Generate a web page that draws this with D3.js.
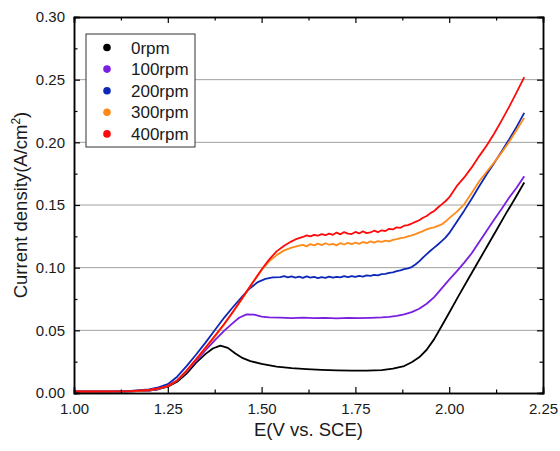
<!DOCTYPE html>
<html>
<head>
<meta charset="utf-8">
<script src="https://cdn.jsdelivr.net/npm/d3@7"></script>
<style>
	body { margin: 0; background: #fff; }
	svg { display: block; font-family: "Liberation Sans", Arial, sans-serif; }
	.line { fill: none; stroke-width: 1.8; stroke-linejoin: round; }
	.axis path, .axis line { stroke: #000; }
	.axis text { font-size: 15px; fill: #1a1a1a; }
</style>
</head>
<body>
<script>
// series names and colours
var seriesNames = ["0rpm", "100rpm", "200rpm", "300rpm", "400rpm"];
var seriesColors = ["#000000", "#7a1ee0", "#0d28b8", "#ff8a1a", "#ff0a0a"];

// tick values
var xTicks = [1.00, 1.25, 1.50, 1.75, 2.00, 2.25];
var yTicks = [0.00, 0.05, 0.10, 0.15, 0.20, 0.25, 0.30];

// [E (V vs. SCE), current density (A/cm2)]
var rpm0 = [[1.00,0.0010],[1.05,0.0010],[1.10,0.0011],[1.15,0.0013],[1.20,0.0020],[1.225,0.0030],[1.25,0.0050],[1.275,0.0090],
	[1.30,0.0155],[1.325,0.0240],[1.35,0.0310],[1.37,0.0355],[1.39,0.0378],[1.41,0.0360],[1.43,0.0315],[1.45,0.0278],[1.47,0.0255],
	[1.50,0.0232],[1.54,0.0210],[1.58,0.0198],[1.62,0.0190],[1.66,0.0184],[1.70,0.0180],[1.74,0.0178],[1.78,0.0178],[1.82,0.0183],
	[1.85,0.0195],[1.88,0.0215],[1.90,0.0245],[1.92,0.0285],[1.94,0.0345],[1.96,0.0430],[1.98,0.0535],[2.00,0.0640],[2.025,0.0775],
	[2.05,0.0905],[2.075,0.1035],[2.10,0.1165],[2.125,0.1295],[2.15,0.1425],[2.175,0.1550],[2.20,0.1680]];

var rpm100 = [[1.00,0.0010],[1.05,0.0010],[1.10,0.0011],[1.15,0.0013],[1.20,0.0020],[1.225,0.0032],[1.25,0.0055],[1.275,0.0100],
	[1.30,0.0170],[1.325,0.0255],[1.35,0.0340],[1.375,0.0420],[1.40,0.0495],[1.42,0.0550],[1.44,0.0600],[1.46,0.0627],[1.48,0.0625],
	[1.50,0.0610],[1.52,0.0603],[1.55,0.0601],[1.58,0.0598],[1.61,0.0601],[1.64,0.0597],[1.67,0.0600],[1.70,0.0596],[1.73,0.0599],
	[1.76,0.0597],[1.79,0.0600],[1.82,0.0603],[1.84,0.0608],[1.86,0.0616],[1.88,0.0628],[1.90,0.0645],[1.92,0.0672],[1.94,0.0712],
	[1.96,0.0765],[1.98,0.0835],[2.00,0.0905],[2.02,0.0970],[2.04,0.1040],[2.06,0.1115],[2.08,0.1205],[2.10,0.1295],[2.12,0.1385],
	[2.14,0.1470],[2.16,0.1560],[2.18,0.1640],[2.20,0.1730]];

var rpm200 = [[1.00,0.0012],[1.05,0.0012],[1.10,0.0013],[1.15,0.0016],[1.20,0.0028],[1.225,0.0045],[1.25,0.0070],[1.275,0.0130],
	[1.30,0.0215],[1.325,0.0305],[1.35,0.0400],[1.375,0.0500],[1.40,0.0600],[1.425,0.0690],[1.45,0.0775],[1.47,0.0838],[1.49,0.0885],
	[1.51,0.0910],[1.53,0.0922],[1.55,0.0925],[1.56,0.0932],[1.57,0.0922],[1.58,0.0930],[1.59,0.0920],[1.60,0.0928],[1.61,0.0918],
	[1.62,0.0930],[1.63,0.0921],[1.64,0.0927],[1.65,0.0917],[1.66,0.0925],[1.67,0.0919],[1.68,0.0929],[1.69,0.0920],[1.70,0.0927],
	[1.71,0.0922],[1.72,0.0932],[1.73,0.0924],[1.74,0.0933],[1.75,0.0926],[1.76,0.0935],[1.77,0.0928],[1.78,0.0938],[1.79,0.0935],
	[1.80,0.0942],[1.81,0.0938],[1.82,0.0948],[1.83,0.0950],[1.84,0.0958],[1.85,0.0962],[1.86,0.0972],[1.87,0.0978],[1.88,0.0988],
	[1.89,0.0995],[1.90,0.1005],[1.91,0.1025],[1.92,0.1050],[1.93,0.1080],[1.94,0.1108],[1.95,0.1135],[1.96,0.1160],[1.97,0.1185],
	[1.98,0.1212],[1.99,0.1240],[2.00,0.1275],[2.02,0.1365],[2.04,0.1455],[2.06,0.1550],[2.08,0.1650],[2.10,0.1745],[2.12,0.1835],
	[2.14,0.1930],[2.16,0.2025],[2.18,0.2125],[2.20,0.2235]];

var rpm300 = [[1.00,0.0010],[1.05,0.0010],[1.10,0.0011],[1.15,0.0013],[1.20,0.0022],[1.225,0.0035],[1.25,0.0055],[1.275,0.0100],
	[1.30,0.0175],[1.325,0.0265],[1.35,0.0355],[1.375,0.0448],[1.40,0.0545],[1.425,0.0650],[1.45,0.0760],[1.475,0.0875],[1.50,0.0980],
	[1.52,0.1050],[1.54,0.1100],[1.56,0.1138],[1.58,0.1160],[1.59,0.1168],[1.60,0.1175],[1.61,0.1182],[1.62,0.1170],[1.63,0.1188],
	[1.64,0.1178],[1.65,0.1192],[1.66,0.1180],[1.67,0.1195],[1.68,0.1183],[1.69,0.1190],[1.70,0.1178],[1.71,0.1196],[1.72,0.1185],
	[1.73,0.1198],[1.74,0.1188],[1.75,0.1200],[1.76,0.1190],[1.77,0.1205],[1.78,0.1195],[1.79,0.1210],[1.80,0.1200],[1.81,0.1212],
	[1.82,0.1205],[1.83,0.1215],[1.84,0.1210],[1.85,0.1222],[1.86,0.1228],[1.87,0.1235],[1.88,0.1240],[1.89,0.1250],[1.90,0.1258],
	[1.91,0.1268],[1.92,0.1280],[1.93,0.1292],[1.94,0.1305],[1.95,0.1316],[1.96,0.1322],[1.97,0.1334],[1.98,0.1345],[1.99,0.1368],
	[2.00,0.1395],[2.02,0.1445],[2.04,0.1505],[2.06,0.1595],[2.08,0.1690],[2.10,0.1765],[2.12,0.1840],[2.14,0.1920],[2.16,0.2005],
	[2.18,0.2100],[2.20,0.2195]];

var rpm400 = [[1.00,0.0012],[1.05,0.0012],[1.10,0.0013],[1.15,0.0015],[1.20,0.0024],[1.225,0.0036],[1.25,0.0055],[1.275,0.0100],
	[1.30,0.0178],[1.325,0.0268],[1.35,0.0360],[1.375,0.0455],[1.40,0.0550],[1.425,0.0655],[1.45,0.0765],[1.475,0.0875],[1.50,0.0985],
	[1.52,0.1065],[1.54,0.1130],[1.56,0.1175],[1.58,0.1210],[1.59,0.1225],[1.60,0.1235],[1.61,0.1245],[1.62,0.1258],[1.63,0.1250],
	[1.64,0.1262],[1.65,0.1255],[1.66,0.1268],[1.67,0.1259],[1.68,0.1272],[1.69,0.1262],[1.70,0.1280],[1.71,0.1266],[1.72,0.1284],
	[1.73,0.1272],[1.74,0.1268],[1.75,0.1285],[1.76,0.1273],[1.77,0.1290],[1.78,0.1276],[1.79,0.1281],[1.80,0.1295],[1.81,0.1283],
	[1.82,0.1298],[1.83,0.1292],[1.84,0.1310],[1.85,0.1305],[1.86,0.1322],[1.87,0.1318],[1.88,0.1335],[1.89,0.1340],[1.90,0.1352],
	[1.91,0.1365],[1.92,0.1378],[1.93,0.1398],[1.94,0.1412],[1.95,0.1435],[1.96,0.1452],[1.97,0.1480],[1.98,0.1505],[1.99,0.1530],
	[2.00,0.1560],[2.02,0.1650],[2.04,0.1720],[2.06,0.1800],[2.08,0.1890],[2.10,0.1975],[2.12,0.2070],[2.14,0.2175],[2.16,0.2285],
	[2.18,0.2400],[2.20,0.2520]];

var allSeries = [rpm0, rpm100, rpm200, rpm300, rpm400];

window.onload = function () {
	DrawChart();
};

function DrawChart() {
	var margin = { top: 17, right: 17, bottom: 58, left: 74 }
		, width = 560 - margin.left - margin.right
		, height = 451 - margin.top - margin.bottom;

	var xScale = d3.scaleLinear()
		.domain([1.0, 2.25])
		.range([0, width]);

	var yScale = d3.scaleLinear()
		.domain([0, 0.30])
		.range([height, 0]);

	var svg = d3.select("body").append("svg")
		.attr("width", width + margin.left + margin.right)
		.attr("height", height + margin.top + margin.bottom)
		.append("g")
		.attr("transform", "translate(" + margin.left + "," + margin.top + ")");

	// horizontal grid
	svg.selectAll(".grid")
		.data(yTicks.filter(function (d) { return d > 0 && d < 0.3; }))
		.enter()
		.append("line")
		.attr("class", "grid")
		.attr("x1", 0)
		.attr("x2", width)
		.attr("y1", function (d) { return yScale(d); })
		.attr("y2", function (d) { return yScale(d); })
		.attr("stroke", "#a0a0a0")
		.attr("stroke-width", 1);

	// curves (straight segments, measured data)
	var line = d3.line()
		.x(function (d) { return xScale(d[0]); })
		.y(function (d) { return yScale(d[1]); });

	allSeries.forEach(function (s, i) {
		svg.append("path")
			.datum(s)
			.attr("class", "line")
			.attr("d", line)
			.attr("stroke", seriesColors[i]);
	});

	// minor tick positions halfway between majors
	var xMinor = xTicks.slice(0, -1).map(function (d) { return d + 0.125; });
	var yMinor = yTicks.slice(0, -1).map(function (d) { return d + 0.025; });

	// bottom axis
	svg.append("g")
		.attr("class", "x axis")
		.attr("transform", "translate(0," + height + ")")
		.call(d3.axisBottom(xScale).tickValues(xTicks).tickSize(-6).tickPadding(10)
			.tickFormat(d3.format(".2f")));
	svg.append("g")
		.attr("class", "x axis")
		.attr("transform", "translate(0," + height + ")")
		.call(d3.axisBottom(xScale).tickValues(xMinor).tickSize(-3.5).tickFormat(""));

	// top axis
	svg.append("g")
		.attr("class", "axis")
		.call(d3.axisTop(xScale).tickValues(xTicks).tickSize(-6).tickFormat(""));
	svg.append("g")
		.attr("class", "axis")
		.call(d3.axisTop(xScale).tickValues(xMinor).tickSize(-3.5).tickFormat(""));

	// left axis
	svg.append("g")
		.attr("class", "y axis")
		.call(d3.axisLeft(yScale).tickValues(yTicks).tickSize(-6).tickPadding(9)
			.tickFormat(d3.format(".2f")));
	svg.append("g")
		.attr("class", "y axis")
		.call(d3.axisLeft(yScale).tickValues(yMinor).tickSize(-3.5).tickFormat(""));

	// right axis
	svg.append("g")
		.attr("class", "axis")
		.attr("transform", "translate(" + width + ",0)")
		.call(d3.axisRight(yScale).tickValues(yTicks).tickSize(-6).tickFormat(""));
	svg.append("g")
		.attr("class", "axis")
		.attr("transform", "translate(" + width + ",0)")
		.call(d3.axisRight(yScale).tickValues(yMinor).tickSize(-3.5).tickFormat(""));

	svg.selectAll(".axis path.domain").attr("stroke-width", 1.5);
	svg.selectAll(".axis .tick line").attr("stroke-width", 1.2);

	// axis titles
	svg.append("text")
		.attr("x", width / 2)
		.attr("y", height + 43)
		.attr("text-anchor", "middle")
		.attr("font-size", "18.5px")
		.attr("fill", "#1a1a1a")
		.text("E(V vs. SCE)");

	var yTitle = svg.append("text")
		.attr("transform", "translate(" + (-47) + "," + (height / 2) + ") rotate(-90)")
		.attr("text-anchor", "middle")
		.attr("font-size", "18.5px")
		.attr("fill", "#1a1a1a");
	yTitle.append("tspan").text("Current density(A/cm");
	yTitle.append("tspan").attr("font-size", "12px").attr("dy", "-7").text("2");
	yTitle.append("tspan").attr("dy", "7").text(")");

	// legend
	var legend = svg.append("g")
		.attr("transform", "translate(12,17)");
	legend.append("rect")
		.attr("x", 0)
		.attr("y", 0)
		.attr("width", 109)
		.attr("height", 113)
		.attr("fill", "#fff")
		.attr("stroke", "#333")
		.attr("stroke-width", 1);
	var item = legend.selectAll(".item")
		.data(seriesNames)
		.enter()
		.append("g")
		.attr("class", "item")
		.attr("transform", function (d, i) { return "translate(0," + (13.5 + i * 21.6) + ")"; });
	item.append("circle")
		.attr("cx", 21)
		.attr("cy", 0)
		.attr("r", 3.8)
		.attr("fill", function (d, i) { return seriesColors[i]; });
	item.append("text")
		.attr("x", 45)
		.attr("y", 0)
		.attr("dy", "0.36em")
		.attr("font-size", "17px")
		.attr("fill", "#1a1a1a")
		.text(function (d) { return d; });
}
</script>
</body>
</html>
